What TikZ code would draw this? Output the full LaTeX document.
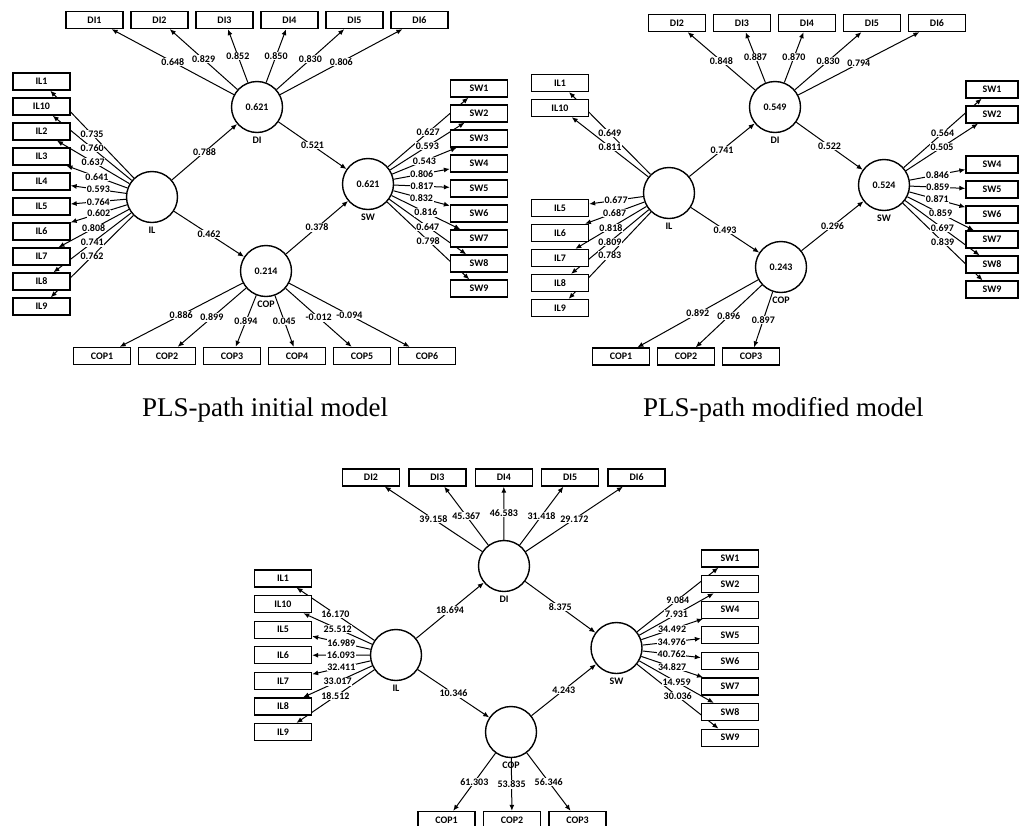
\documentclass[tikz,border=0pt]{standalone}
\usepackage{fontspec}
\setmainfont{Liberation Serif}
\newfontfamily\plsfont{Carlito}
\usetikzlibrary{arrows.meta}
\pgfdeclarelayer{lines}
\pgfsetlayers{lines,main}
\tikzset{
  ind/.style={draw, line width=1.3pt, fill=white, minimum width=57pt, minimum height=17pt, inner sep=0pt, font=\plsfont\bfseries\fontsize{10}{10}\selectfont},
  lat/.style={circle, draw, line width=1.4pt, fill=white, minimum size=51pt, inner sep=0pt, font=\plsfont\bfseries\fontsize{10}{10}\selectfont, label distance=6pt},
  latname/.style={font=\plsfont\bfseries\fontsize{10}{10}\selectfont},
  load/.style={midway, fill=white, inner sep=0.6pt, font=\plsfont\bfseries\fontsize{10}{10}\selectfont},
  arr/.style={-{Latex[length=6pt,width=5pt]}, line width=1pt},
  plscap/.style={anchor=base west, inner sep=0pt, font=\fontsize{27}{27}\selectfont}
}
% line under the boxes, value on top of it
\newcommand\plsline[3]{%
  \begin{pgfonlayer}{lines}\draw[arr] (#1) -- (#2);\end{pgfonlayer}%
  \path (#1) -- (#2) node[load] {#3};}
\begin{document}
\begin{tikzpicture}[x=1pt, y=-1pt]
    \useasboundingbox (0,0) rectangle (1019,825);
    % Initial model
    \node[lat, label={[latname]below:DI}] (aDI) at (257,107) {0.621};
    \node[lat, label={[latname]below:IL}] (aIL) at (152,197) {};
    \node[lat, label={[latname]below:COP}] (aCOP) at (266,271) {0.214};
    \node[lat, label={[latname]below:SW}] (aSW) at (368,184) {0.621};
    \foreach \i/\v [count=\k from 0] in {1/0.648,2/0.829,3/0.852,4/0.850,5/0.830,6/0.806} {
        \node[ind] (aDI\i) at (94.5+65*\k,20) {DI\i};
        \plsline{aDI}{aDI\i}{\v}
    }
    \foreach \i/\v [count=\k from 0] in {1/0.735,10/0.760,2/0.637,3/0.641,4/0.593,5/0.764,6/0.602,7/0.808,8/0.741,9/0.762} {
        \node[ind] (aIL\i) at (41.5,81.5+25*\k) {IL\i};
        \plsline{aIL}{aIL\i}{\v}
    }
    \foreach \i/\v in {1/0.627,2/0.593,3/0.543,4/0.806,5/0.817,6/0.832,7/0.816,8/0.647,9/0.798} {
        \node[ind] (aSW\i) at (479,63.5+25*\i) {SW\i};
        \plsline{aSW}{aSW\i}{\v}
    }
    \foreach \i/\v [count=\k from 0] in {1/0.886,2/0.899,3/0.894,4/0.045,5/-0.012,6/-0.094} {
        \node[ind] (aCOP\i) at (102+65*\k,356) {COP\i};
        \plsline{aCOP}{aCOP\i}{\v}
    }
    \plsline{aIL}{aDI}{0.788}
    \plsline{aIL}{aCOP}{0.462}
    \plsline{aDI}{aSW}{0.521}
    \plsline{aCOP}{aSW}{0.378}
    \node[plscap] (capa) at (142,416) {PLS-path initial model};
    % Modified model
    \node[lat, label={[latname]below:DI}] (bDI) at (775,107) {0.549};
    \node[lat, label={[latname]below:IL}] (bIL) at (669,193) {};
    \node[lat, label={[latname]below:COP}] (bCOP) at (781,267) {0.243};
    \node[lat, label={[latname]below:SW}] (bSW) at (884,185) {0.524};
    \foreach \i/\v [count=\k from 0] in {2/0.848,3/0.887,4/0.870,5/0.830,6/0.794} {
        \node[ind] (bDI\i) at (677+65*\k,23) {DI\i};
        \plsline{bDI}{bDI\i}{\v}
    }
    \foreach \i/\k/\v in {1/0/0.649,10/1/0.811,5/5/0.677,6/6/0.687,7/7/0.818,8/8/0.809,9/9/0.783} {
        \node[ind] (bIL\i) at (560,83+25*\k) {IL\i};
        \plsline{bIL}{bIL\i}{\v}
    }
    \foreach \i/\v in {1/0.564,2/0.505,4/0.846,5/0.859,6/0.871,7/0.859,8/0.697,9/0.839} {
        \node[ind, minimum width=52pt] (bSW\i) at (992,64.5+25*\i) {SW\i};
        \plsline{bSW}{bSW\i}{\v}
    }
    \foreach \i/\v in {1/0.892,2/0.896,3/0.897} {
        \node[ind] (bCOP\i) at (556+65*\i,356.5) {COP\i};
        \plsline{bCOP}{bCOP\i}{\v}
    }
    \plsline{bIL}{bDI}{0.741}
    \plsline{bIL}{bCOP}{0.493}
    \plsline{bDI}{bSW}{0.522}
    \plsline{bCOP}{bSW}{0.296}
    \node[plscap] (capb) at (643,416) {PLS-path modified model};
    % Bootstrapping model
    \node[lat, label={[latname]below:DI}] (cDI) at (504,566) {};
    \node[lat, label={[latname]below:IL}] (cIL) at (396,655) {};
    \node[lat, label={[latname]below:COP}] (cCOP) at (511,732) {};
    \node[lat, label={[latname]below:SW}] (cSW) at (616.5,648) {};
    \foreach \i/\v [count=\k from 0] in {2/39.158,3/45.367,4/46.583,5/31.418,6/29.172} {
        \node[ind] (cDI\i) at (371+66.4*\k,477.5) {DI\i};
        \plsline{cDI}{cDI\i}{\v}
    }
    \foreach \i/\v [count=\k from 0] in {1/16.170,10/25.512,5/16.989,6/16.093,7/32.411,8/33.017,9/18.512} {
        \node[ind] (cIL\i) at (283,578.5+25.6*\k) {IL\i};
        \plsline{cIL}{cIL\i}{\v}
    }
    \foreach \i/\v [count=\k from 0] in {1/9.084,2/7.931,4/34.492,5/34.976,6/40.762,7/34.827,8/14.959,9/30.036} {
        \node[ind] (cSW\i) at (730,558.5+25.6*\k) {SW\i};
        \plsline{cSW}{cSW\i}{\v}
    }
    \foreach \i/\v [count=\k from 0] in {1/61.303,2/53.835,3/56.346} {
        \node[ind] (cCOP\i) at (446.5+65.5*\k,820) {COP\i};
        \plsline{cCOP}{cCOP\i}{\v}
    }
    \plsline{cIL}{cDI}{18.694}
    \plsline{cIL}{cCOP}{10.346}
    \plsline{cDI}{cSW}{8.375}
    \plsline{cCOP}{cSW}{4.243}
\end{tikzpicture}
\end{document}
